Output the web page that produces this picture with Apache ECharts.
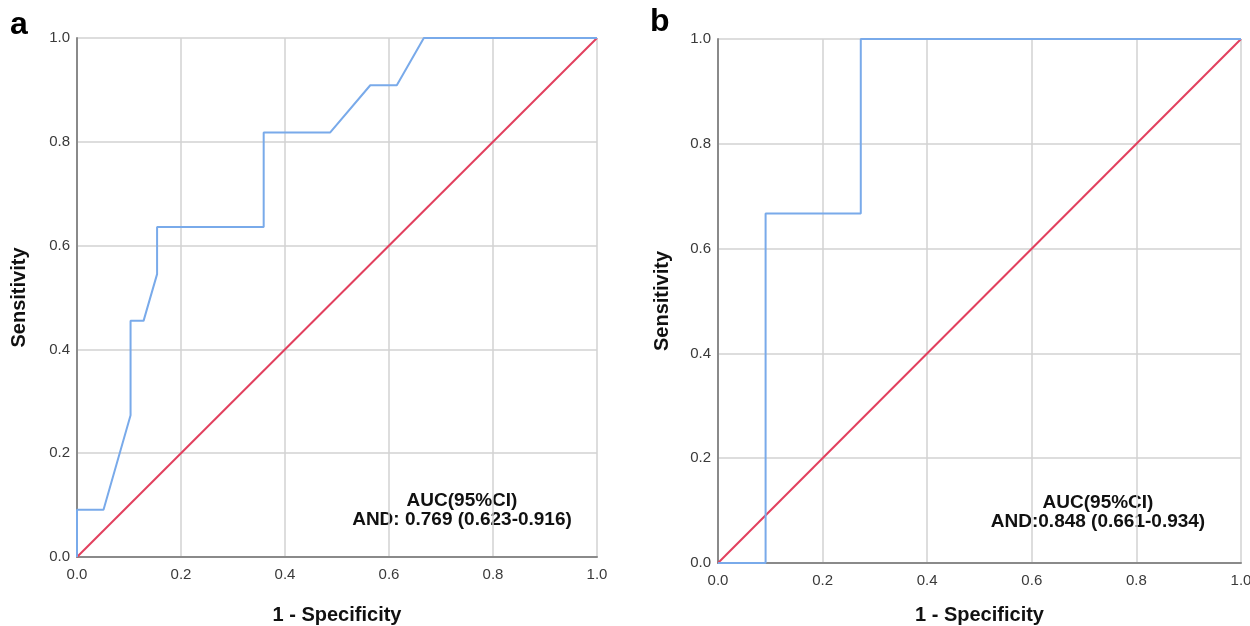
<!DOCTYPE html>
<html>
<head>
<meta charset="utf-8">
<script src="https://cdn.jsdelivr.net/npm/echarts@6/dist/echarts.min.js"></script>
<style>
html,body{margin:0;padding:0;background:#fff;}
#c{width:1250px;height:626px;}
</style>
</head>
<body>
<div id="c"></div>
<script>
// Panel a ROC curve (1 - specificity, sensitivity)
const fprA = [0, 0, 0.051, 0.103, 0.103, 0.128, 0.154, 0.154, 0.359, 0.359, 0.487, 0.564, 0.615, 0.667, 1.0];
const tprA = [0, 0.091, 0.091, 0.273, 0.455, 0.455, 0.545, 0.636, 0.636, 0.818, 0.818, 0.909, 0.909, 1.0, 1.0];
// Panel b ROC curve
const fprB = [0, 0.091, 0.091, 0.273, 0.273, 1.0];
const tprB = [0, 0, 0.667, 0.667, 1.0, 1.0];
// Reference diagonal
const refX = [0, 1];
const refY = [0, 1];
const ticks = [0, 0.2, 0.4, 0.6, 0.8, 1.0];
const panelLetters = ['a', 'b'];
const aucTitle = 'AUC(95%CI)';
const aucA = 'AND: 0.769 (0.623-0.916)';
const aucB = 'AND:0.848 (0.661-0.934)';
const xName = '1 - Specificity';
const yName = 'Sensitivity';

const pair = (xs, ys) => xs.map((x, i) => [x, ys[i]]);

const FONT = '"Liberation Sans", Arial, sans-serif';
const gridColor = '#d2d2d2';
const axisColor = '#8a8a8a';
const blue = '#79aaea';
const red = '#e2405e';

function xAxis(idx, gap) {
  return {
    type: 'value', gridIndex: idx, min: 0, max: 1, interval: 0.2,
    name: xName, nameLocation: 'middle', nameGap: gap,
    nameTextStyle: {fontFamily: FONT, fontWeight: 'bold', fontSize: 20, color: '#111'},
    axisLine: {show: true, onZero: false, lineStyle: {color: axisColor, width: 2}},
    axisTick: {show: false},
    axisLabel: {fontFamily: FONT, fontSize: 15, color: '#3a3a3a', margin: 10,
      formatter: v => v.toFixed(1)},
    splitLine: {show: true, lineStyle: {color: gridColor, width: 1.5}}
  };
}
function yAxis(idx, gap) {
  return {
    type: 'value', gridIndex: idx, min: 0, max: 1, interval: 0.2,
    name: yName, nameLocation: 'middle', nameGap: gap,
    nameTextStyle: {fontFamily: FONT, fontWeight: 'bold', fontSize: 20, color: '#111'},
    axisLine: {show: true, onZero: false, lineStyle: {color: axisColor, width: 2}},
    axisTick: {show: false},
    axisLabel: {fontFamily: FONT, fontSize: 15, color: '#3a3a3a', margin: 7,
      formatter: v => v.toFixed(1)},
    splitLine: {show: true, lineStyle: {color: gridColor, width: 1.5}}
  };
}
function line(idx, data, color) {
  return {
    type: 'line', xAxisIndex: idx, yAxisIndex: idx, data: data,
    showSymbol: false, symbol: 'none', animation: false,
    lineStyle: {color: color, width: 2}, z: color === red ? 3 : 4
  };
}

const chart = echarts.init(document.getElementById('c'), null, {renderer: 'canvas'});
chart.setOption({
  backgroundColor: '#fff',
  animation: false,
  grid: [
    {left: 77, top: 38, width: 520, height: 519, containLabel: false, outerBoundsMode: 'none'},
    {left: 718, top: 39, width: 523, height: 524, containLabel: false, outerBoundsMode: 'none'}
  ],
  xAxis: [xAxis(0, 48), xAxis(1, 42)],
  yAxis: [yAxis(0, 48), yAxis(1, 46)],
  series: [
    line(0, pair(refX, refY), red),
    line(0, pair(fprA, tprA), blue),
    line(1, pair(refX, refY), red),
    line(1, pair(fprB, tprB), blue)
  ],
  graphic: [
    {type: 'text', left: 10, top: 9, style: {text: panelLetters[0], font: 'bold 32px ' + FONT, fill: '#000'}},
    {type: 'text', left: 650, top: 6, style: {text: panelLetters[1], font: 'bold 32px ' + FONT, fill: '#000'}},
    {type: 'text', x: 462, y: 510, style: {text: aucTitle + '\n' + aucA, font: 'bold 19px ' + FONT, fill: '#111',
      align: 'center', verticalAlign: 'middle', lineHeight: 19}},
    {type: 'text', x: 1098, y: 512, style: {text: aucTitle + '\n' + aucB, font: 'bold 19px ' + FONT, fill: '#111',
      align: 'center', verticalAlign: 'middle', lineHeight: 19}}
  ]
});
</script>
</body>
</html>
